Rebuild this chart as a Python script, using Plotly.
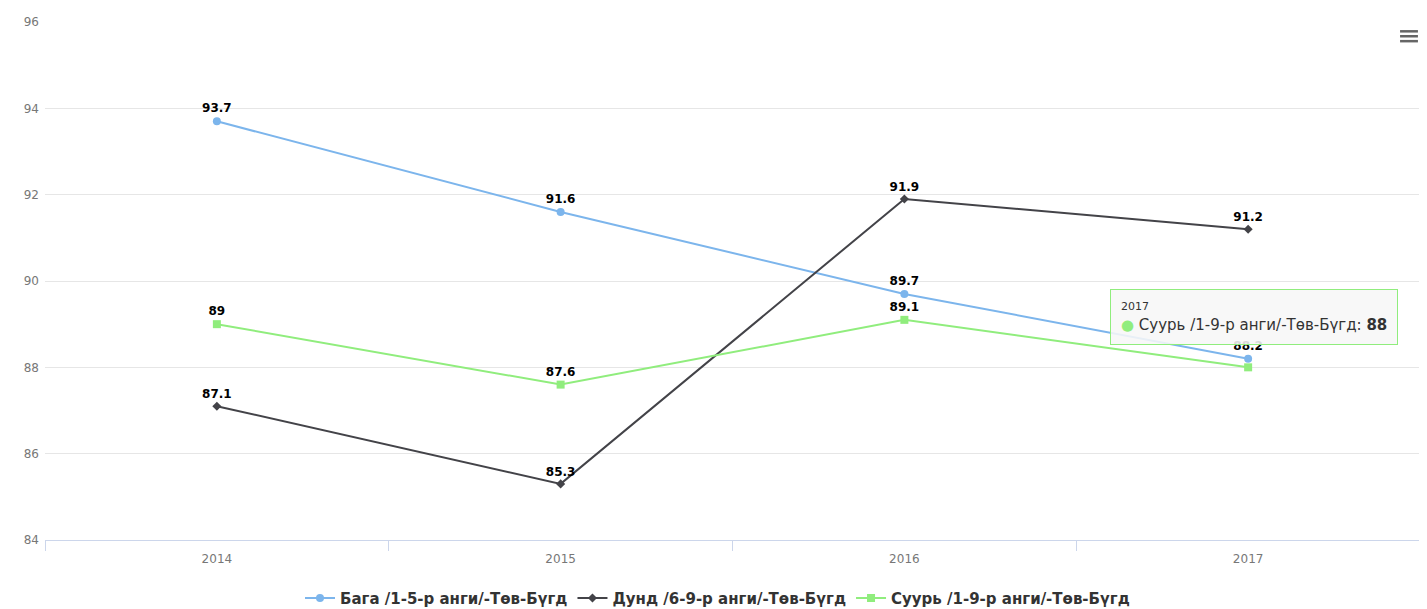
import plotly.graph_objects as go

years = ["2014", "2015", "2016", "2017"]
baga = [93.7, 91.6, 89.7, 88.2]
dund = [87.1, 85.3, 91.9, 91.2]
suuri = [89, 87.6, 89.1, 88]
names = ["Бага /1-5-р анги/-Төв-Бүгд", "Дунд /6-9-р анги/-Төв-Бүгд", "Суурь /1-9-р анги/-Төв-Бүгд"]
colors = ["#7cb5ec", "#434348", "#90ed7d"]
symbols = ["circle", "diamond", "square"]
series = [baga, dund, suuri]
# labels hidden in the reference (overlap with neighbouring label)
hidden = {(2, 3)}

fig = go.Figure()
for si, (name, vals, col, sym) in enumerate(zip(names, series, colors, symbols)):
    fig.add_trace(go.Scatter(
        x=years, y=vals, name=name, mode="lines+markers+text",
        line=dict(color=col, width=2),
        marker=dict(symbol=sym, size=8 if sym != "diamond" else 7, color=col),
        text=["" if (si, i) in hidden else f"<b>{v:g}</b>" for i, v in enumerate(vals)],
        textposition="top center",
        textfont=dict(family="DejaVu Sans", size=12, color="#000000"),
        hoverinfo="skip",
    ))

fig.add_annotation(
    x=3, y=89.17, xref="x", yref="y", xshift=6,
    text="<span style='font-size:11px'>2017</span><br><span style='color:#90ed7d'>●</span> Суурь /1-9-р анги/-Төв-Бүгд: <b>88</b>",
    showarrow=False, align="left", xanchor="center", yanchor="middle",
    bgcolor="rgba(247,247,247,0.88)", bordercolor="#90ed7d", borderwidth=1, borderpad=10,
    font=dict(family="DejaVu Sans", size=15, color="#333333"),
)
for yy in (0.982, 0.9725, 0.963):
    fig.add_shape(type="line", xref="paper", yref="paper",
                  x0=0.9855, x1=0.9985, y0=yy, y1=yy,
                  line=dict(color="#666666", width=2.5))

fig.update_layout(
    width=1419, height=601,
    margin=dict(l=37, r=7, t=12, b=69),
    plot_bgcolor="white", paper_bgcolor="white",
    showlegend=True,
    legend=dict(orientation="h", x=0.5, xref="container", xanchor="center",
                y=0.018, yref="container", yanchor="middle",
                font=dict(family="DejaVu Sans", size=15, color="#333333", weight="bold"),
                itemwidth=30, tracegroupgap=0),
    font=dict(family="DejaVu Sans"),
)
fig.update_xaxes(
    type="category", range=[-0.5, 3.5],
    showgrid=False, showline=True, linecolor="#ccd6eb", linewidth=1,
    ticks="outside", tickson="boundaries", ticklen=10, tickcolor="#ccd6eb",
    tickfont=dict(family="DejaVu Sans", size=12, color="#777777"),
    ticklabelstandoff=8,
)
fig.update_yaxes(
    range=[84, 96], dtick=2, showgrid=True, gridcolor="#e6e6e6", zeroline=False,
    tickfont=dict(family="DejaVu Sans", size=12, color="#777777"),
    ticks="", ticklabelstandoff=5,
)

fig.write_html("out.html")
